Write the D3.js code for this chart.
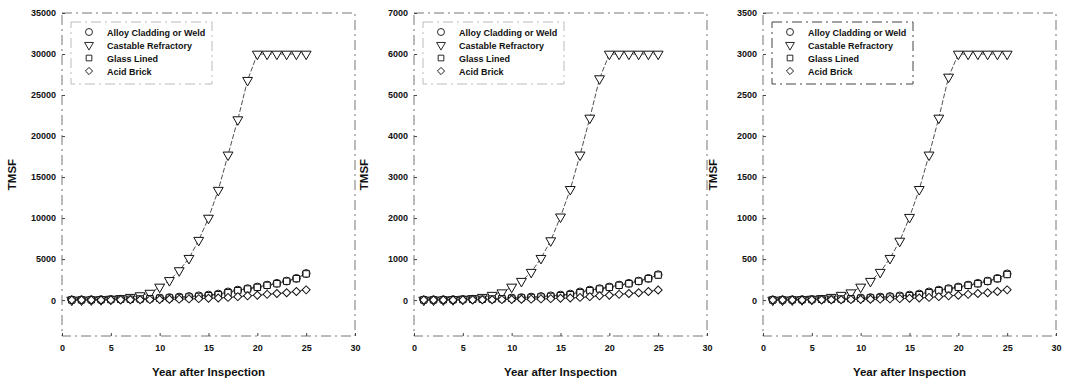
<!DOCTYPE html>
<html>
<head>
<meta charset="utf-8">
<script src="https://cdn.jsdelivr.net/npm/d3@7"></script>
<style>
  body { margin: 0; background: #fff; }
  text { font-family: "Liberation Sans", Arial, sans-serif; fill: #111; }
</style>
</head>
<body>
<div id="chart"></div>
<script>
// years after inspection
const years = [1, 2, 3, 4, 5, 6, 7, 8, 9, 10, 11, 12, 13, 14, 15, 16, 17, 18, 19, 20, 21, 22, 23, 24, 25];
const seriesNames = ['Alloy Cladding or Weld', 'Castable Refractory', 'Glass Lined', 'Acid Brick'];
const xTicks = [0, 5, 10, 15, 20, 25, 30];

// panel 1
const yTicks1 = [0, 5000, 10000, 15000, 20000, 25000, 30000, 35000];
const alloy1 = [30, 40, 50, 60, 80, 100, 130, 170, 210, 260, 310, 370, 440, 520, 620, 740, 1000, 1220, 1400, 1600, 1830, 2050, 2320, 2650, 3250];
const castable1 = [10, 20, 40, 70, 120, 200, 350, 550, 850, 1600, 2400, 3600, 5100, 7300, 10000, 13400, 17700, 22000, 26800, 30000, 30000, 30000, 30000, 30000, 30000];
const glass1 = [20, 30, 40, 50, 70, 90, 110, 140, 180, 220, 270, 320, 380, 450, 540, 660, 900, 1150, 1350, 1550, 1800, 2000, 2300, 2620, 3200];
const brick1 = [10, 12, 15, 20, 25, 30, 40, 50, 60, 80, 100, 120, 150, 180, 220, 260, 330, 420, 520, 600, 700, 800, 900, 1050, 1250];

// panel 2 (middle plot)
const yTicks2 = [0, 1000, 2000, 3000, 4000, 5000, 6000, 7000];
const alloy2 = [6, 8, 10, 12, 16, 20, 26, 34, 42, 52, 62, 74, 88, 104, 124, 148, 200, 244, 280, 320, 366, 410, 464, 530, 620];
const castable2 = [2, 4, 8, 14, 24, 40, 70, 120, 180, 320, 460, 680, 1020, 1450, 2030, 2700, 3540, 4440, 5400, 6000, 6000, 6000, 6000, 6000, 6000];
const glass2 = [4, 6, 8, 10, 14, 18, 22, 28, 36, 44, 54, 64, 76, 90, 108, 132, 180, 230, 270, 310, 360, 400, 460, 524, 610];
const brick2 = [2, 2, 3, 4, 5, 6, 8, 10, 12, 16, 20, 24, 30, 36, 44, 52, 66, 84, 104, 120, 140, 160, 180, 210, 245];

// panel 3 (right plot)
const yTicks3 = [0, 500, 1000, 1500, 2000, 2500, 3000, 3500];
const alloy3 = [3, 4, 5, 6, 8, 10, 13, 17, 21, 26, 31, 37, 44, 52, 62, 74, 100, 122, 140, 160, 183, 205, 232, 265, 320];
const castable3 = [1, 2, 4, 7, 12, 20, 35, 60, 90, 160, 230, 340, 510, 720, 1010, 1350, 1770, 2220, 2720, 3000, 3000, 3000, 3000, 3000, 3000];
const glass3 = [2, 3, 4, 5, 7, 9, 11, 14, 18, 22, 27, 32, 38, 45, 54, 66, 90, 115, 135, 155, 180, 200, 230, 262, 312];
const brick3 = [1, 1, 2, 2, 3, 3, 4, 5, 6, 8, 10, 12, 15, 18, 22, 26, 33, 42, 52, 60, 70, 80, 90, 105, 125];

const panels = [
  { left: 62, yMax: 35000, yTicks: yTicks1, series: [alloy1, castable1, glass1, brick1], legendStroke: '#bbb' },
  { left: 414, yMax: 7000, yTicks: yTicks2, series: [alloy2, castable2, glass2, brick2], legendStroke: '#bbb' },
  { left: 763, yMax: 3500, yTicks: yTicks3, series: [alloy3, castable3, glass3, brick3], legendStroke: '#444' }
];

const W = 293, plotTop = 13, plotBottom = 336;

// marker + line style per series
const symbolFor = [d3.symbolCircle, d3.symbolTriangle, d3.symbolSquare, d3.symbolSquare];
const sizeFor = [48, 42, 40, 32];
const rotateFor = [0, 180, 0, 45];
const dashFor = ['3,2', '5,2', '2,2', null];

var svg = d3.select('#chart')
  .append('svg')
  .attr('width', 1068)
  .attr('height', 380);

panels.forEach(function (p) {
  const x = d3.scaleLinear().domain([0, 30]).range([p.left, p.left + W]);
  const y = d3.scaleLinear().domain([-p.yMax / 8, p.yMax]).range([plotBottom, plotTop]);
  const g = svg.append('g');

  // broken-looking frame
  g.append('rect')
    .attr('x', p.left).attr('y', plotTop)
    .attr('width', W).attr('height', plotBottom - plotTop)
    .attr('fill', 'none')
    .attr('stroke', '#777')
    .attr('stroke-width', 1)
    .attr('stroke-dasharray', '10,4,2,4');

  // Y axis
  const ya = g.append('g')
    .attr('transform', `translate(${p.left},0)`)
    .call(d3.axisLeft(y).tickValues(p.yTicks).tickFormat(d3.format('d')).tickSize(-3).tickPadding(6));
  ya.select('.domain').remove();
  ya.selectAll('text').style('font-size', '9px').style('font-weight', 'bold');
  ya.selectAll('line').attr('stroke', '#444');

  // X axis
  const xa = g.append('g')
    .attr('transform', `translate(0,${plotBottom})`)
    .call(d3.axisBottom(x).tickValues(xTicks).tickSize(-3).tickPadding(9));
  xa.select('.domain').remove();
  xa.selectAll('text').style('font-size', '9px').style('font-weight', 'bold');
  xa.selectAll('line').attr('stroke', '#444');

  // lines and markers
  p.series.forEach(function (vals, i) {
    const line = d3.line()
      .x((d, k) => x(years[k]))
      .y(d => y(d));
    g.append('path')
      .datum(vals)
      .attr('d', line)
      .attr('fill', 'none')
      .attr('stroke', '#222')
      .attr('stroke-width', 0.8)
      .attr('stroke-dasharray', dashFor[i]);

    g.selectAll('.m' + i)
      .data(vals)
      .join('path')
      .attr('class', 'm' + i)
      .attr('d', d3.symbol().type(symbolFor[i]).size(sizeFor[i]))
      .attr('transform', (d, k) => `translate(${x(years[k])},${y(d)}) rotate(${rotateFor[i]})`)
      .attr('fill', '#fff')
      .attr('stroke', '#111')
      .attr('stroke-width', 1);
  });

  // legend
  const lg = g.append('g');
  lg.append('rect')
    .attr('x', p.left + 9).attr('y', 22)
    .attr('width', 141).attr('height', 62)
    .attr('fill', '#fff')
    .attr('stroke', p.legendStroke)
    .attr('stroke-dasharray', '10,4,2,4');
  seriesNames.forEach(function (name, i) {
    const ly = 32 + i * 13;
    lg.append('path')
      .attr('d', d3.symbol().type(symbolFor[i]).size(sizeFor[i] * 0.8))
      .attr('transform', `translate(${p.left + 27},${ly}) rotate(${rotateFor[i]})`)
      .attr('fill', '#fff')
      .attr('stroke', '#111')
      .attr('stroke-width', 0.9);
    lg.append('text')
      .attr('x', p.left + 45)
      .attr('y', ly + 3.5)
      .style('font-size', '9px')
      .style('font-weight', 'bold')
      .text(name);
  });

  // axis titles
  g.append('text')
    .attr('x', p.left + W / 2)
    .attr('y', 376)
    .attr('text-anchor', 'middle')
    .style('font-size', '11.5px')
    .style('font-weight', 'bold')
    .text('Year after Inspection');

  g.append('text')
    .attr('text-anchor', 'middle')
    .attr('transform', `translate(${p.left - 46},${(plotTop + plotBottom) / 2})rotate(-90)`)
    .style('font-size', '11.5px')
    .style('font-weight', 'bold')
    .text('TMSF');
});
</script>
</body>
</html>
